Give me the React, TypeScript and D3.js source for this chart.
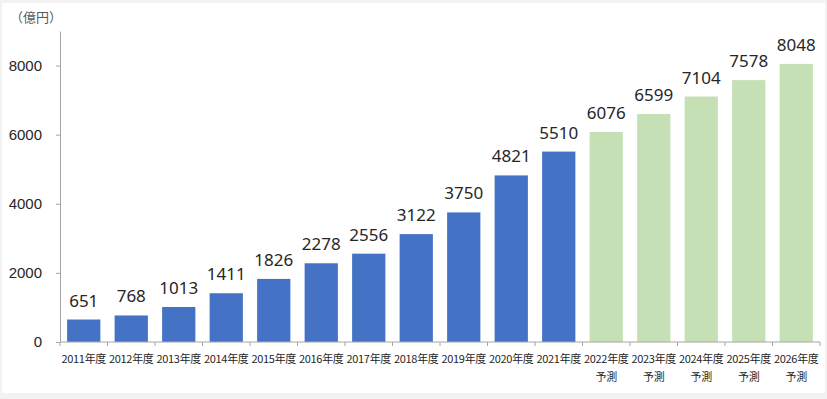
import { useEffect, useRef } from "react";
import * as d3 from "d3";

const years = ["2011", "2012", "2013", "2014", "2015", "2016", "2017", "2018", "2019", "2020", "2021", "2022", "2023", "2024", "2025", "2026"];
const values = [651, 768, 1013, 1411, 1826, 2278, 2556, 3122, 3750, 4821, 5510, 6076, 6599, 7104, 7578, 8048];
const forecast = [false, false, false, false, false, false, false, false, false, false, false, true, true, true, true, true];
const yTicks = [0, 2000, 4000, 6000, 8000];
const unitLabel = "（億円）";

const W = 827;
const H = 399;

export default function App() {
    const svgRef = useRef<SVGSVGElement>(null);

    useEffect(() => {
        const svg = d3.select(svgRef.current);
        svg.selectAll("*").remove();

        // frame
        svg.append("rect").attr("width", W).attr("height", H).attr("fill", "#f2f2f2");
        svg.append("rect").attr("x", 2).attr("y", 3).attr("width", 823).attr("height", 390).attr("fill", "#ffffff");

        const margin = { left: 60, right: 7, top: 31, bottom: 57 };
        const x = d3.scaleBand<string>()
            .domain(years)
            .range([margin.left, W - margin.right])
            .paddingInner(0.3)
            .paddingOuter(0.15);
        const y = d3.scaleLinear().domain([0, 9000]).range([H - margin.bottom, margin.top]);

        const font = "'Noto Sans', 'Open Sans', sans-serif";
        const cjk = "'Noto Sans CJK JP', 'Noto Sans', sans-serif";

        // unit label
        svg.append("text")
            .attr("x", 10)
            .attr("y", 22)
            .attr("font-family", cjk)
            .attr("font-size", 13)
            .attr("fill", "#595959")
            .text(unitLabel);

        // y axis
        const yAxis = svg.append("g")
            .attr("transform", `translate(${margin.left},0)`)
            .call(d3.axisLeft(y).tickValues(yTicks).tickFormat(d => `${d}`).tickSize(4).tickSizeOuter(0).tickPadding(14));
        yAxis.select(".domain").attr("stroke", "#a6a6a6");
        yAxis.selectAll(".tick line").attr("stroke", "#a6a6a6");
        yAxis.selectAll(".tick text")
            .attr("font-family", "'Liberation Sans', Arial, sans-serif")
            .attr("font-size", 15)
            .attr("fill", "#262626");

        // bars
        svg.append("g")
            .selectAll("rect")
            .data(values)
            .join("rect")
            .attr("x", (_, i) => x(years[i]) ?? 0)
            .attr("y", d => y(d))
            .attr("width", x.bandwidth())
            .attr("height", d => y(0) - y(d))
            .attr("fill", (_, i) => (forecast[i] ? "#c5e0b4" : "#4472c4"));

        // x axis
        const step = x.step();
        const base = y(0);
        svg.append("line")
            .attr("x1", margin.left).attr("x2", W - margin.right)
            .attr("y1", base).attr("y2", base)
            .attr("stroke", "#a6a6a6");
        svg.append("g")
            .selectAll("line")
            .data(d3.range(years.length + 1))
            .join("line")
            .attr("x1", i => margin.left + i * step)
            .attr("x2", i => margin.left + i * step)
            .attr("y1", base)
            .attr("y2", base + 4)
            .attr("stroke", "#a6a6a6");

        const xl = svg.append("g")
            .selectAll("text")
            .data(years)
            .join("text")
            .attr("x", d => (x(d) ?? 0) + x.bandwidth() / 2)
            .attr("y", base + 21)
            .attr("text-anchor", "middle")
            .attr("font-family", cjk)
            .attr("font-size", 11)
            .attr("letter-spacing", -0.3)
            .attr("fill", "#262626");
        xl.append("tspan").text(d => `${d}年度`);
        xl.filter((_, i) => forecast[i])
            .append("tspan")
            .attr("x", d => (x(d) ?? 0) + x.bandwidth() / 2)
            .attr("dy", 18)
            .text("予測");

        // value labels
        svg.append("g")
            .selectAll("text")
            .data(values)
            .join("text")
            .attr("x", (_, i) => (x(years[i]) ?? 0) + x.bandwidth() / 2)
            .attr("y", d => y(d) - 13)
            .attr("text-anchor", "middle")
            .attr("font-family", font)
            .attr("font-size", 17)
            .attr("fill", "#262626")
            .text(d => d);
    }, []);

    return (
        <svg
            ref={svgRef}
            width={W}
            height={H}
            style={{ position: "absolute", left: 0, top: 0 }}
        />
    );
}
